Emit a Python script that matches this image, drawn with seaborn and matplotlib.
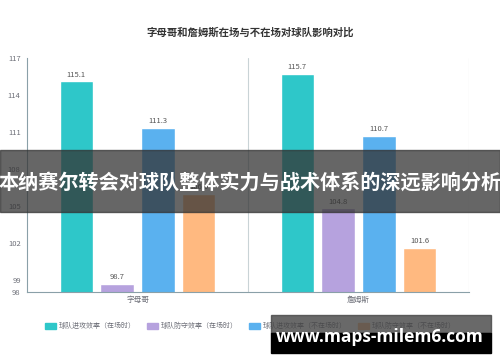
import matplotlib
matplotlib.use('Agg')
import matplotlib.pyplot as plt
import pandas as pd
import seaborn as sns
from matplotlib.patches import Rectangle

# 数据
players = ['字母哥', '詹姆斯']
series = ['球队进攻效率（在场时）', '球队防守效率（在场时）', '球队进攻效率（不在场时）', '球队防守效率（不在场时）']
off_on = [115.1, 115.7]
def_on = [98.7, 104.8]
off_off = [111.3, 110.7]
def_off = [106.0, 101.6]
y_ticks = [98, 99, 102, 105, 108, 111, 114, 117]
colors = ['#2ec7c9', '#b6a2de', '#5ab1ef', '#ffb980']

rows = []
for s, vals in zip(series, [off_on, def_on, off_off, def_off]):
    for p, v in zip(players, vals):
        rows.append({'player': p, 'series': s, 'value': v})
df = pd.DataFrame(rows)

sns.set_style('white')
plt.rcParams['font.family'] = ['Noto Sans CJK SC', 'DejaVu Sans']

fig = plt.figure(figsize=(5, 3.62), dpi=100)
ax = fig.add_axes([0.054, 0.193, 0.884, 0.647])
sns.barplot(data=df, x='player', y='value', hue='series', palette=colors,
            width=0.74, gap=0.185, ax=ax, legend=False, saturation=1)

ax.set_ylim(98, 117)
ax.set_xlim(-0.5, 1.5)
ax.set_yticks(y_ticks)
ax.set_yticklabels([str(t) for t in y_ticks], fontsize=5.5, color='#6e7079')
ax.set_xticks([0, 1])
ax.set_xticklabels(players, fontsize=5.5, color='#6e7079')
ax.set_xlabel('')
ax.set_ylabel('')
ax.tick_params(axis='y', length=2.5, width=0.6, color='#6e7079', pad=2)
ax.tick_params(axis='x', length=0, pad=3)
ax.set_xticks([-0.5, 0.5, 1.5], minor=True)
ax.tick_params(axis='x', which='minor', length=2.5, width=0.6, color='#6e7079')

for sp in ['top', 'right']:
    ax.spines[sp].set_visible(False)
for sp in ['left', 'bottom']:
    ax.spines[sp].set_color('#8aa0a8')
    ax.spines[sp].set_linewidth(0.8)
for xv in [0.5, 1.5]:
    ax.axvline(xv, color='#c9d3d6', lw=0.8, zorder=0)

for c in ax.containers:
    ax.bar_label(c, fmt='%.1f', fontsize=5.5, color='#555555', padding=2)

# 图例
handles = [Rectangle((0, 0), 1, 1, color=c) for c in colors]
fig.legend(handles, series, loc='center', bbox_to_anchor=(0.5, 0.099), ncol=4,
           frameon=False, fontsize=5.0, labelcolor='#6e7079', handlelength=1.6,
           handleheight=0.9, handletextpad=0.4, columnspacing=1.6)

fig.text(0.5, 0.909, '字母哥和詹姆斯在场与不在场对球队影响对比', ha='center', va='center',
         fontsize=7.5, fontweight='bold', color='#333333')

# 水印
fig.patches.append(Rectangle((0, 1 - 212 / 362), 1, 62 / 362, transform=fig.transFigure,
                             color='#333333', alpha=0.75, zorder=10))
fig.text(0.5, 1 - 182 / 362, '本纳赛尔转会对球队整体实力与战术体系的深远影响分析', ha='center',
         va='center', fontsize=14.5, fontweight='bold', color='white', zorder=11)
fig.patches.append(Rectangle((271 / 500, 1 - 333 / 362), 220 / 500, 18 / 362,
                             transform=fig.transFigure, color='#444444', alpha=0.8, zorder=10))
fig.patches.append(Rectangle((271 / 500, 1 - 353 / 362), 220 / 500, 20 / 362,
                             transform=fig.transFigure, color='black', zorder=10))
fig.text(380 / 500, 1 - 337 / 362, 'www.maps-milem6.com', ha='center', va='center',
         fontsize=12.5, fontweight='bold', color='white', zorder=11,
         family=['Open Sans', 'DejaVu Sans'])

fig.savefig('out.png', dpi=100)
